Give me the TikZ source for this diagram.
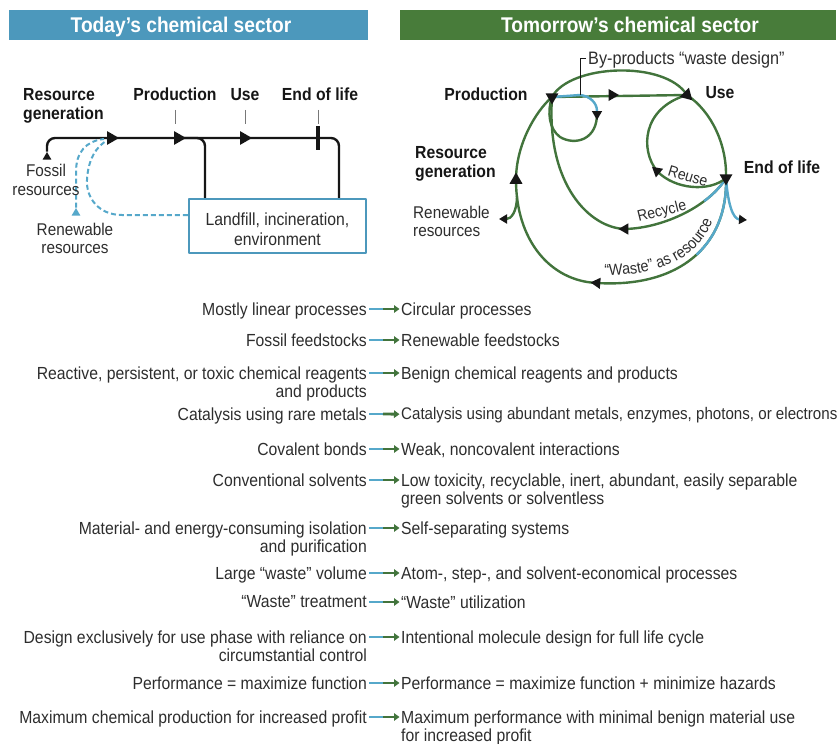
\documentclass[tikz,border=0pt]{standalone}
\usepackage{fontspec}
\setmainfont{Liberation Sans}[FakeStretch=0.9]
\usetikzlibrary{arrows.meta,shapes.geometric,decorations.text,calc}
\definecolor{hblue}{RGB}{76,152,188}
\definecolor{hgreen}{RGB}{72,124,58}
\definecolor{lblue}{RGB}{86,168,202}
\definecolor{lgreen}{RGB}{66,116,60}
\definecolor{txt}{RGB}{45,45,45}
\definecolor{blk}{RGB}{22,22,22}
\definecolor{tickgray}{RGB}{120,120,120}
\newcommand\cfhead{\fontsize{21.3}{24}\selectfont\bfseries}
\newcommand\cflab{\fontsize{17.5}{18.5}\selectfont\bfseries}
\newcommand\cfnorm{\fontsize{17}{18.5}\selectfont}
\newcommand\cflist{\fontsize{17.5}{18.5}\selectfont}
\newcommand\cflistsm{\fontsize{16.8}{18.5}\selectfont}
\newcommand\cfbox{\fontsize{17.5}{20}\selectfont}
\newcommand\cfby{\fontsize{18}{20}\selectfont}
\newcommand\cfsmall{\fontsize{15.5}{16}\selectfont}
\newcommand\cfwaste{\fontsize{16}{17}\selectfont}
\newcommand\cfarrow[2]{%
  \draw[lblue, line width=2.8pt] ([shift={(2,-6.7)}]#1.north east) -- ([shift={(17,-6.7)}]#1.north east);
  \draw[lgreen, line width=2.8pt, -{Triangle[length=5.5pt,width=7.5pt]}] ([shift={(16,-6.7)}]#1.north east) -- ([shift={(-1.5,-6.7)}]#2.north west);
}
\begin{document}
\begin{tikzpicture}[x=1pt,y=1pt, line join=round,
  tri/.style={regular polygon, regular polygon sides=3, fill=blk, draw=none, inner sep=0pt, minimum size=#1},
  tri/.default=15pt,
  blkline/.style={draw=blk, line width=2.4pt},
  grn/.style={draw=lgreen, line width=2.4pt},
  blu/.style={draw=lblue, line width=2.4pt},
  dashblue/.style={draw=lblue, line width=2pt, dash pattern=on 5pt off 3pt},
  lab/.style={font=\cflab, text=blk, inner sep=0pt},
  nrm/.style={font=\cfnorm, text=txt, inner sep=0pt},
  lt/.style={anchor=north east, align=right, font=\cflist, text=txt, inner sep=0pt},
  rt/.style={anchor=north west, align=left, font=\cflist, text=txt, inner sep=0pt}]
\useasboundingbox (0,0) rectangle (839,-744);

% ---------- headers ----------
\fill[hblue] (9,-10) rectangle (368,-40);
\fill[hgreen] (400,-10) rectangle (836,-40);
\node[anchor=base, text=white, font=\cfhead, inner sep=0pt] (h1) at (181,-32.5) {Today’s chemical sector};
\node[anchor=base, text=white, font=\cfhead, inner sep=0pt] (h2) at (630,-32.5) {Tomorrow’s chemical sector};

% ---------- today ----------
\node[draw=hblue, line width=2.2pt, fill=white, minimum width=177pt, minimum height=54pt, inner sep=0pt] (box) at (277.5,-226) {};
\node[align=center, font=\cfbox, text=txt, inner sep=0pt] (boxtxt) at (277.5,-229.5) {Landfill, incineration,\\environment};

\node[lab, anchor=north west, align=left] (rgL) at (23,-88.3) {Resource\\generation};
\node[lab, anchor=base] (prL) at (175,-100.8) {Production};
\node[lab, anchor=base] (usL) at (245,-100.8) {Use};
\node[lab, anchor=base] (eoL) at (320,-100.8) {End of life};
\draw[tickgray, line width=1pt] ([yshift=-9]prL.base) -- ([yshift=-23]prL.base);
\draw[tickgray, line width=1pt] ([yshift=-9]usL.base) -- ([yshift=-23]usL.base);
\draw[tickgray, line width=1pt] ([shift={(-2,-9)}]eoL.base) -- ([shift={(-2,-23)}]eoL.base);

\node[tri=10pt] (fsT) at (47,-157) {};
\node[tri=10pt, fill=lblue] (renT) at (76,-213) {};
\coordinate (mlR) at (339,-138);
\coordinate (brA) at (182,-138);
\coordinate (brB) at (205,-138);
\draw[blkline, rounded corners=8pt] (fsT.north) |- (mlR) -- (mlR |- box.north);
\draw[blkline, rounded corners=8pt] (brA) -- (brB) -- (brB |- box.north);
\draw[blk, line width=4.5pt] (318,-126) -- (318,-150);

\draw[dashblue] ([yshift=11]box.west) -- (122,-215) .. controls (98,-215) and (86,-197) .. (87,-180) .. controls (88,-160) and (96,-146) .. (108,-140);
\draw[dashblue] (renT.north) -- (76,-172) .. controls (76,-152) and (86,-141) .. (104,-139);

\node[tri=16pt, rotate=-90] (tRG) at (111,-138) {};
\node[tri=16pt, rotate=-90] (tPR) at (178,-138) {};
\node[tri=16pt, rotate=-90] (tUS) at (244,-138) {};

\node[nrm, align=center, anchor=north] (fosL) at (46,-164) {Fossil\\resources};
\node[nrm, align=center, anchor=north] (renL) at (75,-222.5) {Renewable\\resources};

% ---------- tomorrow ----------
\coordinate (P) at (552,-97);
\coordinate (U) at (687,-95);
\coordinate (E) at (726,-178);
\coordinate (R) at (516,-180);
\coordinate (Bk) at (580,-95);
\coordinate (A) at (625,-229);
\coordinate (A2) at (657,-171);
\coordinate (B) at (597,-283);

\draw[grn] (P) .. controls (570,-64) and (665,-60) .. (U);
\draw[grn] (U) .. controls (712,-112) and (727,-145) .. (E);
\draw[grn] (E) .. controls (728,-245) and (680,-288) .. (B);
\draw[blu, dash pattern=on 85pt off 1000pt] (E) .. controls (728,-245) and (680,-288) .. (B);
\draw[grn] (B) .. controls (550,-281) and (516,-240) .. (R);
\draw[grn] (R) .. controls (516,-145) and (535,-112) .. (P);
\draw[grn] (P) -- (U);
\draw[blu] (P) -- (Bk);
\draw[blu] (Bk) .. controls (590,-96) and (597,-103) .. (597,-111);
\draw[grn] (597,-112) .. controls (598,-140) and (575,-146) .. (560,-137) .. controls (549,-129) and (547,-112) .. (P);
\draw[grn] (E) .. controls (710,-205) and (665,-228) .. (A);
\draw[blu, dash pattern=on 32pt off 1000pt] (E) .. controls (710,-205) and (665,-228) .. (A);
\draw[grn] (A) .. controls (590,-228) and (546,-185) .. (P);
\draw[grn] (E) .. controls (710,-192) and (675,-190) .. (A2);
\draw[grn] (A2) .. controls (640,-150) and (642,-108) .. (U);
\draw[grn, -{Triangle[length=8pt,width=9pt,color=blk]}] (517,-196) .. controls (517,-212) and (511,-219) .. (499,-219);
\draw[blu, -{Triangle[length=8pt,width=9pt,color=blk]}] (E) .. controls (728,-205) and (733,-219) .. (747,-220);

\node[tri=15pt, rotate=180] (tP) at (P) {};
\node[tri=15pt, rotate=-15] (tU) at (U) {};
\node[tri=15pt, rotate=180] (tE) at (E) {};
\node[tri=15pt] (tR) at (R) {};
\node[tri=12pt, rotate=180] (tL) at (597,-114) {};
\node[tri=14pt, rotate=-90] (tH) at (612,-95) {};
\node[tri=13pt, rotate=50] (tRu) at (A2) {};
\node[tri=13pt, rotate=90] (tRc) at (A) {};
\node[tri=13pt, rotate=85] (tW) at (B) {};

\node[lab, anchor=base] (prR) at (486,-100.8) {Production};
\node[lab, anchor=base] (usR) at (720,-98.8) {Use};
\node[lab, anchor=north west, align=left] (rgR) at (415,-146.3) {Resource\\generation};
\node[lab, anchor=base] (eoR) at (782,-173.8) {End of life};
\node[nrm, anchor=north west, align=left] (renR) at (413,-205.5) {Renewable\\resources};
\node[anchor=base west, font=\cfby, text=txt, inner sep=0pt] (byR) at (588,-64) {By-products “waste design”};
\draw[blk, line width=1pt] (Bk) |- ([shift={(-2,6)}]byR.base west);

\node[font=\cfsmall, text=txt, rotate=-17, inner sep=0pt] (reuseL) at (688,-176) {Reuse};
\node[font=\cfsmall, text=txt, rotate=14, inner sep=0pt] (recL) at (662,-212) {Recycle};
\path[decorate, decoration={text along path, text={|\cfwaste|“Waste” as resource}, text align=center, text color=txt}] (593,-275) .. controls (645,-278) and (702,-266) .. (716,-210);

% ---------- list ----------
\node[lt] (l1) at (367,-302.3) {Mostly linear processes};
\node[rt] (r1) at (401,-302.3) {Circular processes};
\node[lt] (l2) at (367,-333.3) {Fossil feedstocks};
\node[rt] (r2) at (401,-333.3) {Renewable feedstocks};
\node[lt] (l3) at (367,-366.3) {Reactive, persistent, or toxic chemical reagents\\and products};
\node[rt] (r3) at (401,-366.3) {Benign chemical reagents and products};
\node[lt] (l4) at (367,-407.3) {Catalysis using rare metals};
\node[rt, font=\cflistsm] (r4) at (401,-407.5) {Catalysis using abundant metals, enzymes, photons, or electrons};
\node[lt] (l5) at (367,-442.3) {Covalent bonds};
\node[rt] (r5) at (401,-442.3) {Weak, noncovalent interactions};
\node[lt] (l6) at (367,-473.3) {Conventional solvents};
\node[rt] (r6) at (401,-473.3) {Low toxicity, recyclable, inert, abundant, easily separable\\green solvents or solventless};
\node[lt] (l7) at (367,-521.3) {Material- and energy-consuming isolation\\and purification};
\node[rt] (r7) at (401,-521.3) {Self-separating systems};
\node[lt] (l8) at (367,-566.3) {Large “waste” volume};
\node[rt] (r8) at (401,-566.3) {Atom-, step-, and solvent-economical processes};
\node[lt] (l9) at (367,-595.3) {“Waste” treatment};
\node[rt] (r9) at (401,-595.3) {“Waste” utilization};
\node[lt] (l10) at (367,-630.3) {Design exclusively for use phase with reliance on\\circumstantial control};
\node[rt] (r10) at (401,-630.3) {Intentional molecule design for full life cycle};
\node[lt] (l11) at (367,-676.3) {Performance = maximize function};
\node[rt] (r11) at (401,-676.3) {Performance = maximize function + minimize hazards};
\node[lt] (l12) at (367,-710.3) {Maximum chemical production for increased profit};
\node[rt] (r12) at (401,-710.3) {Maximum performance with minimal benign material use\\for increased profit};

\cfarrow{l1}{r1}
\cfarrow{l2}{r2}
\cfarrow{l3}{r3}
\cfarrow{l4}{r4}
\cfarrow{l5}{r5}
\cfarrow{l6}{r6}
\cfarrow{l7}{r7}
\cfarrow{l8}{r8}
\cfarrow{l9}{r9}
\cfarrow{l10}{r10}
\cfarrow{l11}{r11}
\cfarrow{l12}{r12}
\end{tikzpicture}
\end{document}
